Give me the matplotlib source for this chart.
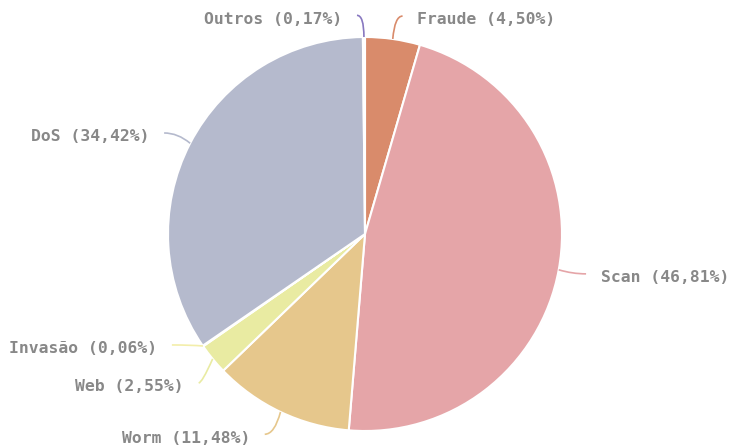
import matplotlib
matplotlib.use("Agg")
import matplotlib.pyplot as plt
from matplotlib.path import Path
from matplotlib.patches import PathPatch
import numpy as np

# data: categories and shares (%), clockwise from 12 o'clock
labels = ['Fraude', 'Scan', 'Worm', 'Web', 'Invasão', 'DoS', 'Outros']
values = [4.50, 46.81, 11.48, 2.55, 0.06, 34.42, 0.17]
colors = ['#d98b6b', '#e5a5a8', '#e6c78c', '#e9eba2', '#f3eeaa', '#b5bacd', '#8878c0']

# label layout nudges (radius units) to mimic the overlap-avoiding layout
label_shift = {'Outros': (0.035, 0.04), 'Fraude': (-0.03, 0.047), 'Scan': (0, -0.008),
               'DoS': (0, 0.02), 'Invasão': (-0.03, 0.045), 'Web': (0.053, -0.078),
               'Worm': (0.02, -0.05)}

fig = plt.figure(figsize=(7.33, 4.45), dpi=100)
ax = fig.add_axes([0, 0, 1, 1])

wedges, _ = ax.pie(values, colors=colors, startangle=90, counterclock=False,
                   radius=1.0, wedgeprops=dict(edgecolor='white', linewidth=1.5))

R_PX = 197.0
cx, cy = 365, 234
ax.set_xlim(-cx / R_PX, (733 - cx) / R_PX)
ax.set_ylim(-(445 - cy) / R_PX, cy / R_PX)
ax.set_aspect('equal')
ax.axis('off')

total = sum(values)
start = 90.0
l1, l2, gap = 0.07, 0.07, 0.075
for name, v, c in zip(labels, values, colors):
    sweep = 360.0 * v / total
    mid = np.deg2rad(start - sweep / 2)
    start -= sweep
    ca, sa = np.cos(mid), np.sin(mid)
    dx, dy = label_shift.get(name, (0, 0))
    side = 1 if ca >= 0 else -1
    p0 = (ca, sa)
    p1 = ((1 + l1) * ca, (1 + l1) * sa + dy)
    p2 = (p1[0] + side * l2 + dx, p1[1])
    path = Path([p0, p1, p2], [Path.MOVETO, Path.CURVE3, Path.CURVE3])
    ax.add_patch(PathPatch(path, fill=False, edgecolor=c, lw=1.2))
    ax.text(p2[0] + side * gap, p2[1] - 0.02, f"{name} ({v:.2f}%)".replace('.', ','),
            ha='left' if side > 0 else 'right', va='center',
            family='DejaVu Sans Mono', fontweight='bold', fontsize=11.8, color='#888888')

plt.savefig('out.png', dpi=100)
